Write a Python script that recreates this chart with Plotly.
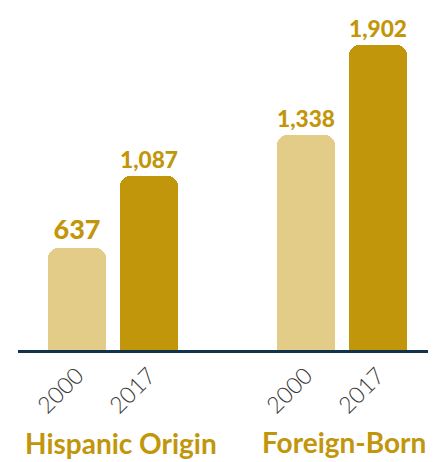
import plotly.graph_objects as go

groups = ["Hispanic Origin", "Foreign-Born"]
years = ["2000", "2017"]
values_2000 = [637, 1338]
values_2017 = [1087, 1902]
value_labels_2000 = ["637", "1,338"]
value_labels_2017 = ["1,087", "1,902"]

LIGHT = "#E2CC88"
DARK = "#C2960A"
TEXT_GOLD = "#C2960A"
NAVY = "#12344A"

group_gap = 3.18
x2000 = [g * group_gap + 0 for g in range(len(groups))]
x2017 = [g * group_gap + 1 for g in range(len(groups))]

fig = go.Figure()
for xs, vals, labs, col in [(x2000, values_2000, value_labels_2000, LIGHT),
                            (x2017, values_2017, value_labels_2017, DARK)]:
    fig.add_trace(go.Bar(
        x=xs, y=vals, width=0.806,
        marker=dict(color=col, cornerradius=10, line=dict(width=0)),
        text=labs, textposition="outside", cliponaxis=False,
        textfont=dict(family="Lato", size=27, color=TEXT_GOLD, weight=900),
        showlegend=False,
    ))

tickvals = []
ticktext = []
for g in range(len(groups)):
    for j, y in enumerate(years):
        tickvals.append(g * group_gap + j)
        ticktext.append(y)

fig.update_layout(
    width=436, height=462,
    margin=dict(l=10, r=13, t=0, b=120, autoexpand=False),
    paper_bgcolor="white", plot_bgcolor="white",
    bargap=0,
    xaxis=dict(range=[-0.819, 4.917], tickvals=tickvals, ticktext=ticktext,
               tickangle=-45, showgrid=False, zeroline=False, automargin=False,
               showline=True, linecolor=NAVY, linewidth=3,
               ticks="", ticklen=0,
               tickfont=dict(family="Lato", size=23, color="#3A3A3A", weight=300)),
    yaxis=dict(range=[0, 2132], visible=False, showgrid=False, zeroline=False,
               automargin=False),
    showlegend=False,
)

for g, name in enumerate(groups):
    fig.add_annotation(
        x=g * group_gap + 0.5, xref="x", y=0, yref="paper",
        text="<b>" + name + "</b>", showarrow=False,
        yanchor="middle", yshift=-93 + (1 if g else 0), xshift=(8 if g == 0 else 2),
        font=dict(family="Lato", size=28, color=TEXT_GOLD, weight=900),
    )

fig.write_html("out.html")
